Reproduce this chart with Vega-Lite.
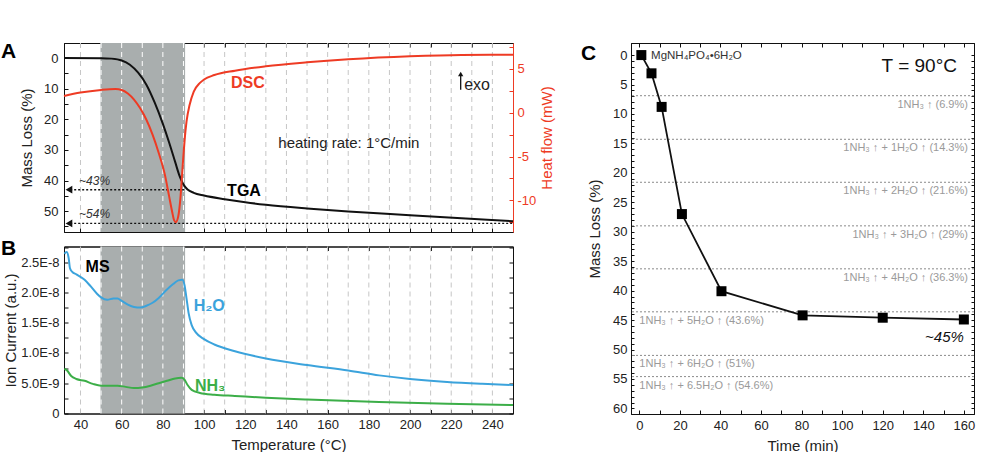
{
  "$schema": "https://vega.github.io/schema/vega-lite/v6.json",
  "background": "white",
  "padding": {"left": 0, "top": 40, "right": 6, "bottom": 4},
  "autosize": {"type": "pad"},
  "config": {
    "font": "Liberation Sans",
    "view": {"stroke": "#111", "strokeWidth": 1},
    "axis": {"labelFont": "Liberation Sans", "titleFont": "Liberation Sans", "labelFontSize": 13, "titleFontSize": 15, "titleFontWeight": "normal", "labelColor": "#222", "titleColor": "#222", "tickColor": "#111", "domainColor": "#111", "grid": false, "labelFlush": false, "labelOverlap": false, "zindex": 1, "tickSize": -4, "labelPadding": 9},
    "title": {"font": "Liberation Sans", "fontSize": 21, "fontWeight": "bold", "color": "#000", "anchor": "start", "baseline": "top", "offset": 0, "frame": "group"}
  },
  "datasets": {
    "tgrid": [{"T":40},{"T":50},{"T":60},{"T":70},{"T":80},{"T":90},{"T":100},{"T":110},{"T":120},{"T":130},{"T":140},{"T":150},{"T":160},{"T":170},{"T":180},{"T":190},{"T":200},{"T":210},{"T":220},{"T":230},{"T":240}],
    "tga": [
      {"T":32,"loss":0},{"T":50,"loss":0.05},{"T":55,"loss":0.2},{"T":60,"loss":0.8},{"T":64,"loss":2.2},{"T":68,"loss":4.8},{"T":72,"loss":8.7},{"T":76,"loss":14.5},{"T":80,"loss":21.5},{"T":83,"loss":27.5},{"T":86,"loss":34},{"T":88,"loss":38.3},{"T":90,"loss":41.3},{"T":92,"loss":42.9},{"T":95,"loss":44},{"T":100,"loss":44.9},{"T":110,"loss":46.1},{"T":120,"loss":47.1},{"T":130,"loss":47.9},{"T":150,"loss":49.1},{"T":170,"loss":50.1},{"T":200,"loss":51.3},{"T":225,"loss":52.3},{"T":250,"loss":53.3}
    ],
    "dsc": [
      {"T":32,"hf":1.9},{"T":40,"hf":2.3},{"T":50,"hf":2.6},{"T":57,"hf":2.7},{"T":60,"hf":2.6},{"T":63,"hf":2.2},{"T":66,"hf":1.5},{"T":69,"hf":0.5},{"T":72,"hf":-0.8},{"T":75,"hf":-2.5},{"T":78,"hf":-4.6},{"T":81,"hf":-7.1},{"T":83,"hf":-9.5},{"T":84.5,"hf":-11.3},{"T":85.5,"hf":-12.3},{"T":86.3,"hf":-12.5},{"T":87.5,"hf":-11.8},{"T":88.5,"hf":-9.8},{"T":89.5,"hf":-6.5},{"T":90.5,"hf":-3.3},{"T":91.5,"hf":-1},{"T":93,"hf":0.9},{"T":95,"hf":2.4},{"T":98,"hf":3.4},{"T":100,"hf":3.8},{"T":105,"hf":4.3},{"T":115,"hf":4.8},{"T":130,"hf":5.3},{"T":150,"hf":5.75},{"T":170,"hf":6.1},{"T":200,"hf":6.45},{"T":225,"hf":6.6},{"T":250,"hf":6.62}
    ],
    "h2o": [
      {"T":32.2,"ion":2.64e-8},{"T":33.3,"ion":2.67e-8},{"T":34.3,"ion":2.56e-8},{"T":34.9,"ion":2.40e-8},{"T":36,"ion":2.34e-8},{"T":38,"ion":2.30e-8},{"T":42,"ion":2.21e-8},{"T":45,"ion":2.10e-8},{"T":48,"ion":1.98e-8},{"T":50,"ion":1.92e-8},{"T":53,"ion":1.88e-8},{"T":56,"ion":1.90e-8},{"T":58,"ion":1.90e-8},{"T":60,"ion":1.86e-8},{"T":63,"ion":1.80e-8},{"T":66,"ion":1.76e-8},{"T":69,"ion":1.75e-8},{"T":72,"ion":1.78e-8},{"T":75,"ion":1.83e-8},{"T":78,"ion":1.91e-8},{"T":82,"ion":2.05e-8},{"T":85,"ion":2.14e-8},{"T":87.5,"ion":2.20e-8},{"T":89.5,"ion":2.21e-8},{"T":90.5,"ion":2.12e-8},{"T":91.5,"ion":1.90e-8},{"T":92.5,"ion":1.66e-8},{"T":94,"ion":1.46e-8},{"T":96,"ion":1.34e-8},{"T":100,"ion":1.23e-8},{"T":105,"ion":1.14e-8},{"T":115,"ion":1.03e-8},{"T":130,"ion":0.91e-8},{"T":150,"ion":0.80e-8},{"T":170,"ion":0.71e-8},{"T":185,"ion":0.63e-8},{"T":200,"ion":0.57e-8},{"T":218,"ion":0.52e-8},{"T":235,"ion":0.49e-8},{"T":250,"ion":0.47e-8}
    ],
    "nh3": [
      {"T":32.2,"ion":0.74e-8},{"T":33.5,"ion":0.71e-8},{"T":35.5,"ion":0.62e-8},{"T":38,"ion":0.57e-8},{"T":42,"ion":0.54e-8},{"T":46,"ion":0.49e-8},{"T":50,"ion":0.46e-8},{"T":55,"ion":0.46e-8},{"T":58,"ion":0.46e-8},{"T":62,"ion":0.44e-8},{"T":66,"ion":0.42e-8},{"T":70,"ion":0.43e-8},{"T":74,"ion":0.46e-8},{"T":78,"ion":0.50e-8},{"T":82,"ion":0.54e-8},{"T":86,"ion":0.58e-8},{"T":89,"ion":0.59e-8},{"T":90.5,"ion":0.56e-8},{"T":92,"ion":0.47e-8},{"T":94,"ion":0.39e-8},{"T":98,"ion":0.34e-8},{"T":105,"ion":0.31e-8},{"T":115,"ion":0.29e-8},{"T":130,"ion":0.26e-8},{"T":150,"ion":0.23e-8},{"T":185,"ion":0.19e-8},{"T":218,"ion":0.16e-8},{"T":250,"ion":0.14e-8}
    ],
    "kinetics": [
      {"t":1,"loss":0},{"t":6,"loss":3.1},{"t":11,"loss":8.8},{"t":21,"loss":27},{"t":40.5,"loss":40.1},{"t":80.5,"loss":44.2},{"t":120,"loss":44.6},{"t":160,"loss":44.9}
    ],
    "levels": [
      {"loss":6.9,"label":"1NH₃ ↑ (6.9%)"},
      {"loss":14.3,"label":"1NH₃ ↑ + 1H₂O ↑ (14.3%)"},
      {"loss":21.6,"label":"1NH₃ ↑ + 2H₂O ↑ (21.6%)"},
      {"loss":29,"label":"1NH₃ ↑ + 3H₂O ↑ (29%)"},
      {"loss":36.3,"label":"1NH₃ ↑ + 4H₂O ↑ (36.3%)"},
      {"loss":43.6,"label":"1NH₃ ↑ + 5H₂O ↑ (43.6%)"},
      {"loss":51,"label":"1NH₃ ↑ + 6H₂O ↑ (51%)"},
      {"loss":54.6,"label":"1NH₃ ↑ + 6.5H₂O ↑ (54.6%)"}
    ],
    "plateaus": [{"loss": 43, "label": "~43%"}, {"loss": 54, "label": "~54%"}]
  },
  "hconcat": [
    {
      "vconcat": [
        {
          "width": 449, "height": 189,
          "title": {"text": "A", "dx": -63, "dy": 24.5},
          "layer": [
            {"data": {"values": [{"T0": 49.7, "T1": 90.8}]},
             "mark": {"type": "rect", "color": "#a9aeae"},
             "encoding": {
               "x": {"field": "T0", "type": "quantitative", "scale": {"domain": [32, 250], "nice": false, "zero": false},
                     "axis": {"orient": "bottom", "values": [40,50,60,70,80,90,100,110,120,130,140,150,160,170,180,190,200,210,220,230,240], "labels": false, "title": null}},
               "x2": {"field": "T1"}}},
            {"data": {"name": "tgrid"},
             "mark": {"type": "rule", "strokeDash": [5, 4], "strokeWidth": 1},
             "encoding": {
               "x": {"field": "T", "type": "quantitative", "scale": {"domain": [32, 250], "nice": false, "zero": false}, "axis": null},
               "color": {"condition": {"test": "datum.T >= 50 && datum.T <= 90", "value": "#ffffff"}, "value": "#c6c6c6"}}},
            {"data": {"name": "tga"},
             "mark": {"type": "line", "color": "#111", "strokeWidth": 2, "interpolate": "monotone"},
             "encoding": {
               "x": {"field": "T", "type": "quantitative", "scale": {"domain": [32, 250], "nice": false, "zero": false}, "axis": null},
               "y": {"field": "loss", "type": "quantitative", "scale": {"domain": [-4.9, 56.8], "reverse": true, "nice": false, "zero": false},
                     "axis": {"orient": "left", "values": [0,5,10,15,20,25,30,35,40,45,50,55], "labelExpr": "datum.value % 10 == 0 ? datum.value : ''", "title": "Mass Loss (%)", "labelPadding": 10, "titlePadding": 9}}}},
            {"data": {"values": [{}]},
             "mark": {"type": "rule", "strokeDash": [2, 2], "strokeWidth": 1.3, "color": "#111"},
             "encoding": {
               "x": {"datum": 35, "type": "quantitative", "scale": {"domain": [32, 250], "nice": false, "zero": false}, "axis": null},
               "x2": {"datum": 90.5},
               "y": {"datum": 43, "type": "quantitative", "scale": {"domain": [-4.9, 56.8], "reverse": true, "nice": false, "zero": false}, "axis": null}}},
            {"data": {"values": [{}]},
             "mark": {"type": "rule", "strokeDash": [2, 2], "strokeWidth": 1.3, "color": "#111"},
             "encoding": {
               "x": {"datum": 35, "type": "quantitative", "scale": {"domain": [32, 250], "nice": false, "zero": false}, "axis": null},
               "x2": {"datum": 250},
               "y": {"datum": 54, "type": "quantitative", "scale": {"domain": [-4.9, 56.8], "reverse": true, "nice": false, "zero": false}, "axis": null}}},
            {"data": {"name": "plateaus"},
             "mark": {"type": "point", "shape": "triangle-left", "filled": true, "color": "#111", "size": 60, "opacity": 1},
             "encoding": {
               "x": {"datum": 34.4, "type": "quantitative", "scale": {"domain": [32, 250], "nice": false, "zero": false}, "axis": null},
               "y": {"field": "loss", "type": "quantitative", "scale": {"domain": [-4.9, 56.8], "reverse": true, "nice": false, "zero": false}, "axis": null}}},
            {"data": {"name": "plateaus"},
             "mark": {"type": "text", "align": "left", "dy": -9, "fontSize": 12, "fontStyle": "italic", "color": "#333"},
             "encoding": {
               "x": {"datum": 39.3, "type": "quantitative", "scale": {"domain": [32, 250], "nice": false, "zero": false}, "axis": null},
               "y": {"field": "loss", "type": "quantitative", "scale": {"domain": [-4.9, 56.8], "reverse": true, "nice": false, "zero": false}, "axis": null},
               "text": {"field": "label"}}},
            {"data": {"values": [{}]},
             "mark": {"type": "text", "text": "DSC", "fontSize": 16, "fontWeight": "bold", "color": "#ee3b24"},
             "encoding": {
               "x": {"datum": 121.3, "type": "quantitative", "scale": {"domain": [32, 250], "nice": false, "zero": false}, "axis": null},
               "y": {"datum": 8.2, "type": "quantitative", "scale": {"domain": [-4.9, 56.8], "reverse": true, "nice": false, "zero": false}, "axis": null}}},
            {"data": {"values": [{}]},
             "mark": {"type": "text", "text": "TGA", "fontSize": 16, "fontWeight": "bold", "color": "#000"},
             "encoding": {
               "x": {"datum": 119.4, "type": "quantitative", "scale": {"domain": [32, 250], "nice": false, "zero": false}, "axis": null},
               "y": {"datum": 43.4, "type": "quantitative", "scale": {"domain": [-4.9, 56.8], "reverse": true, "nice": false, "zero": false}, "axis": null}}},
            {"data": {"values": [{}]},
             "mark": {"type": "text", "text": "heating rate: 1°C/min", "fontSize": 15, "color": "#222"},
             "encoding": {
               "x": {"datum": 170.3, "type": "quantitative", "scale": {"domain": [32, 250], "nice": false, "zero": false}, "axis": null},
               "y": {"datum": 27.8, "type": "quantitative", "scale": {"domain": [-4.9, 56.8], "reverse": true, "nice": false, "zero": false}, "axis": null}}},
            {"data": {"values": [{}]},
             "mark": {"type": "rule", "strokeWidth": 1.3, "color": "#111"},
             "encoding": {
               "x": {"datum": 224.6, "type": "quantitative", "scale": {"domain": [32, 250], "nice": false, "zero": false}, "axis": null},
               "y": {"datum": 5.3, "type": "quantitative", "scale": {"domain": [-4.9, 56.8], "reverse": true, "nice": false, "zero": false}, "axis": null},
               "y2": {"datum": 10.4}}},
            {"data": {"values": [{}]},
             "mark": {"type": "point", "shape": "triangle-up", "filled": true, "color": "#111", "size": 28, "opacity": 1},
             "encoding": {
               "x": {"datum": 224.6, "type": "quantitative", "scale": {"domain": [32, 250], "nice": false, "zero": false}, "axis": null},
               "y": {"datum": 5.2, "type": "quantitative", "scale": {"domain": [-4.9, 56.8], "reverse": true, "nice": false, "zero": false}, "axis": null}}},
            {"data": {"values": [{}]},
             "mark": {"type": "text", "text": "exo", "align": "left", "fontSize": 16, "color": "#222"},
             "encoding": {
               "x": {"datum": 226.3, "type": "quantitative", "scale": {"domain": [32, 250], "nice": false, "zero": false}, "axis": null},
               "y": {"datum": 8.8, "type": "quantitative", "scale": {"domain": [-4.9, 56.8], "reverse": true, "nice": false, "zero": false}, "axis": null}}},
            {"data": {"name": "dsc"},
             "mark": {"type": "line", "color": "#ee3b24", "strokeWidth": 2, "interpolate": "monotone"},
             "encoding": {
               "x": {"field": "T", "type": "quantitative", "scale": {"domain": [32, 250], "nice": false, "zero": false},
                     "axis": {"orient": "top", "values": [40,50,60,70,80,90,100,110,120,130,140,150,160,170,180,190,200,210,220,230,240], "labels": false, "title": null}},
               "y": {"field": "hf", "type": "quantitative", "scale": {"domain": [-13.62, 7.96], "nice": false, "zero": false},
                     "axis": {"orient": "right", "values": [-12.5,-10,-7.5,-5,-2.5,0,2.5,5,7.5], "labelExpr": "datum.value % 5 == 0 ? '' + datum.value : ''", "title": "Heat flow  (mW)", "titleAngle": 270, "titleBaseline": "top", "titlePadding": 4, "labelPadding": 8, "domainColor": "#ee3b24", "tickColor": "#ee3b24", "labelColor": "#ee3b24", "titleColor": "#ee3b24"}}}}
          ],
          "resolve": {"scale": {"y": "independent"}, "axis": {"x": "independent", "y": "independent"}}
        },
        {
          "width": 449, "height": 167,
          "title": {"text": "B", "dx": -63, "dy": 21.5},
          "layer": [
            {"data": {"values": [{"T0": 49.7, "T1": 90.8}]},
             "mark": {"type": "rect", "color": "#a9aeae"},
             "encoding": {
               "x": {"field": "T0", "type": "quantitative", "scale": {"domain": [32, 250], "nice": false, "zero": false}, "axis": null},
               "x2": {"field": "T1"}}},
            {"data": {"name": "tgrid"},
             "mark": {"type": "rule", "strokeDash": [5, 4], "strokeWidth": 1},
             "encoding": {
               "x": {"field": "T", "type": "quantitative", "scale": {"domain": [32, 250], "nice": false, "zero": false}, "axis": null},
               "color": {"condition": {"test": "datum.T >= 50 && datum.T <= 90", "value": "#ffffff"}, "value": "#c6c6c6"}}},
            {"data": {"name": "h2o"},
             "mark": {"type": "line", "color": "#3ba3dc", "strokeWidth": 2, "interpolate": "monotone"},
             "encoding": {
               "x": {"field": "T", "type": "quantitative", "scale": {"domain": [32, 250], "nice": false, "zero": false},
                     "axis": {"orient": "bottom", "values": [40,50,60,70,80,90,100,110,120,130,140,150,160,170,180,190,200,210,220,230,240], "labelExpr": "datum.value % 20 == 0 ? datum.value : ''", "title": "Temperature (°C)", "titlePadding": 6}},
               "y": {"field": "ion", "type": "quantitative", "scale": {"domain": [0, 2.76e-8], "nice": false, "zero": false},
                     "axis": {"orient": "left", "values": [0,2.5e-9,5e-9,7.5e-9,1e-8,1.25e-8,1.5e-8,1.75e-8,2e-8,2.25e-8,2.5e-8,2.75e-8], "labelExpr": "round(datum.value * 1e10) % 50 != 0 ? '' : (datum.value == 0 ? '0' : (datum.value >= 1e-8 ? format(datum.value * 1e8, '.1f') + 'E-8' : format(datum.value * 1e9, '.1f') + 'E-9'))", "title": "Ion Current  (a.u.)", "titlePadding": 2}}}},
            {"data": {"name": "nh3"},
             "mark": {"type": "line", "color": "#3cae48", "strokeWidth": 2, "interpolate": "monotone"},
             "encoding": {
               "x": {"field": "T", "type": "quantitative", "scale": {"domain": [32, 250], "nice": false, "zero": false},
                     "axis": {"orient": "top", "values": [40,50,60,70,80,90,100,110,120,130,140,150,160,170,180,190,200,210,220,230,240], "labels": false, "title": null}},
               "y": {"field": "ion", "type": "quantitative", "scale": {"domain": [0, 2.76e-8], "nice": false, "zero": false},
                     "axis": {"orient": "right", "values": [0,2.5e-9,5e-9,7.5e-9,1e-8,1.25e-8,1.5e-8,1.75e-8,2e-8,2.25e-8,2.5e-8,2.75e-8], "labels": false, "title": null}}}},
            {"data": {"values": [{}]},
             "mark": {"type": "text", "text": "MS", "fontSize": 16, "fontWeight": "bold", "color": "#000"},
             "encoding": {
               "x": {"datum": 48.3, "type": "quantitative", "scale": {"domain": [32, 250], "nice": false, "zero": false}, "axis": null},
               "y": {"datum": 2.42e-8, "type": "quantitative", "scale": {"domain": [0, 2.76e-8], "nice": false, "zero": false}, "axis": null}}},
            {"data": {"values": [{}]},
             "mark": {"type": "text", "text": "H₂O", "fontSize": 16, "fontWeight": "bold", "color": "#3ba3dc"},
             "encoding": {
               "x": {"datum": 102.5, "type": "quantitative", "scale": {"domain": [32, 250], "nice": false, "zero": false}, "axis": null},
               "y": {"datum": 1.77e-8, "type": "quantitative", "scale": {"domain": [0, 2.76e-8], "nice": false, "zero": false}, "axis": null}}},
            {"data": {"values": [{}]},
             "mark": {"type": "text", "text": "NH₃", "fontSize": 16, "fontWeight": "bold", "color": "#3cae48"},
             "encoding": {
               "x": {"datum": 103, "type": "quantitative", "scale": {"domain": [32, 250], "nice": false, "zero": false}, "axis": null},
               "y": {"datum": 0.46e-8, "type": "quantitative", "scale": {"domain": [0, 2.76e-8], "nice": false, "zero": false}, "axis": null}}}
          ],
          "resolve": {"axis": {"x": "independent", "y": "independent"}}
        }
      ],
      "spacing": 2.5
    },
    {
      "width": 343, "height": 371,
      "title": {"text": "C", "dx": -50, "dy": 25.5},
      "layer": [
        {"data": {"name": "levels"},
         "mark": {"type": "rule", "strokeDash": [2, 2], "strokeWidth": 1, "color": "#8a8a8a"},
         "encoding": {
           "y": {"field": "loss", "type": "quantitative", "scale": {"domain": [-2.05, 60.95], "reverse": true, "nice": false, "zero": false}, "axis": null}}},
        {"data": {"name": "levels"},
         "transform": [{"filter": "datum.loss < 40"}],
         "mark": {"type": "text", "align": "right", "dy": 9, "fontSize": 11, "color": "#9a9a9a"},
         "encoding": {
           "x": {"datum": 162, "type": "quantitative", "scale": {"domain": [-4.1, 165], "nice": false, "zero": false}, "axis": null},
           "y": {"field": "loss", "type": "quantitative", "scale": {"domain": [-2.05, 60.95], "reverse": true, "nice": false, "zero": false}, "axis": null},
           "text": {"field": "label"}}},
        {"data": {"name": "levels"},
         "transform": [{"filter": "datum.loss > 40"}],
         "mark": {"type": "text", "align": "left", "dy": 9, "fontSize": 11, "color": "#9a9a9a"},
         "encoding": {
           "x": {"datum": 0, "type": "quantitative", "scale": {"domain": [-4.1, 165], "nice": false, "zero": false}, "axis": null},
           "y": {"field": "loss", "type": "quantitative", "scale": {"domain": [-2.05, 60.95], "reverse": true, "nice": false, "zero": false}, "axis": null},
           "text": {"field": "label"}}},
        {"data": {"name": "kinetics"},
         "mark": {"type": "line", "color": "#111", "strokeWidth": 1.8},
         "encoding": {
           "x": {"field": "t", "type": "quantitative", "scale": {"domain": [-4.1, 165], "nice": false, "zero": false},
                 "axis": {"orient": "bottom", "values": [0,10,20,30,40,50,60,70,80,90,100,110,120,130,140,150,160], "labelExpr": "datum.value % 20 == 0 ? datum.value : ''", "title": "Time (min)", "titlePadding": 6}},
           "y": {"field": "loss", "type": "quantitative", "scale": {"domain": [-2.05, 60.95], "reverse": true, "nice": false, "zero": false},
                 "axis": {"orient": "left", "values": [0,1,2,3,4,5,6,7,8,9,10,11,12,13,14,15,16,17,18,19,20,21,22,23,24,25,26,27,28,29,30,31,32,33,34,35,36,37,38,39,40,41,42,43,44,45,46,47,48,49,50,51,52,53,54,55,56,57,58,59,60], "labelExpr": "datum.value % 5 == 0 ? datum.value : ''", "tickSize": -3, "labelPadding": 7, "title": "Mass Loss (%)", "titlePadding": 10}}}},
        {"data": {"name": "kinetics"},
         "mark": {"type": "point", "shape": "square", "filled": true, "color": "#000", "size": 100, "opacity": 1},
         "encoding": {
           "x": {"field": "t", "type": "quantitative", "scale": {"domain": [-4.1, 165], "nice": false, "zero": false},
                 "axis": {"orient": "top", "values": [0,10,20,30,40,50,60,70,80,90,100,110,120,130,140,150,160], "labels": false, "title": null}},
           "y": {"field": "loss", "type": "quantitative", "scale": {"domain": [-2.05, 60.95], "reverse": true, "nice": false, "zero": false},
                 "axis": {"orient": "right", "values": [0,1,2,3,4,5,6,7,8,9,10,11,12,13,14,15,16,17,18,19,20,21,22,23,24,25,26,27,28,29,30,31,32,33,34,35,36,37,38,39,40,41,42,43,44,45,46,47,48,49,50,51,52,53,54,55,56,57,58,59,60], "labels": false, "tickSize": -3, "title": null}}}},
        {"data": {"values": [{}]},
         "mark": {"type": "text", "text": "MgNH₄PO₄•6H₂O", "align": "left", "fontSize": 11.5, "color": "#333"},
         "encoding": {
           "x": {"datum": 5.8, "type": "quantitative", "scale": {"domain": [-4.1, 165], "nice": false, "zero": false}, "axis": null},
           "y": {"datum": 0.1, "type": "quantitative", "scale": {"domain": [-2.05, 60.95], "reverse": true, "nice": false, "zero": false}, "axis": null}}},
        {"data": {"values": [{}]},
         "mark": {"type": "text", "text": "T = 90°C", "align": "right", "fontSize": 19, "color": "#111"},
         "encoding": {
           "x": {"datum": 156.6, "type": "quantitative", "scale": {"domain": [-4.1, 165], "nice": false, "zero": false}, "axis": null},
           "y": {"datum": 1.8, "type": "quantitative", "scale": {"domain": [-2.05, 60.95], "reverse": true, "nice": false, "zero": false}, "axis": null}}},
        {"data": {"values": [{}]},
         "mark": {"type": "text", "text": "~45%", "align": "right", "fontSize": 15, "fontStyle": "italic", "color": "#111"},
         "encoding": {
           "x": {"datum": 160, "type": "quantitative", "scale": {"domain": [-4.1, 165], "nice": false, "zero": false}, "axis": null},
           "y": {"datum": 47.8, "type": "quantitative", "scale": {"domain": [-2.05, 60.95], "reverse": true, "nice": false, "zero": false}, "axis": null}}}
      ],
      "resolve": {"axis": {"x": "independent", "y": "independent"}}
    }
  ],
  "spacing": 24
}
